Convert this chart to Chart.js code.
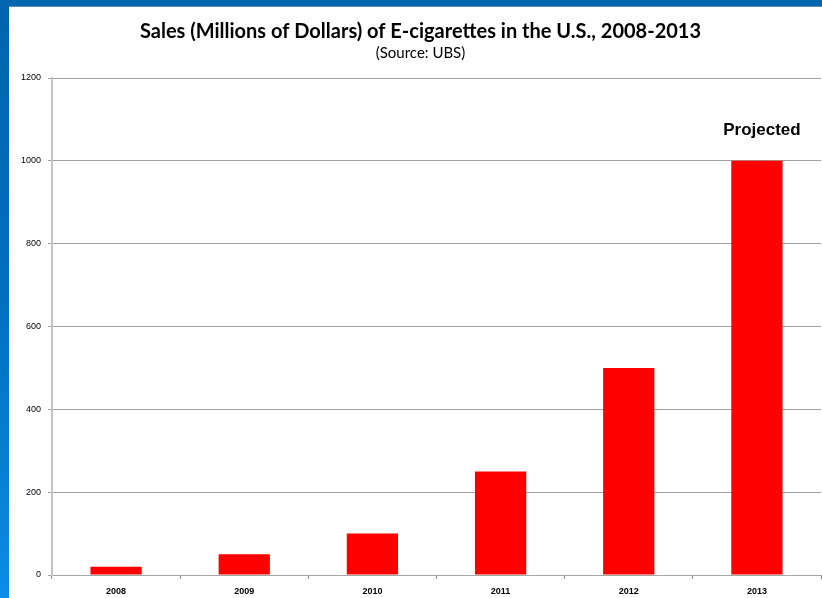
<!DOCTYPE html>
<html>
<head>
<meta charset="utf-8">
<script src="https://cdn.jsdelivr.net/npm/chart.js@4/dist/chart.umd.min.js"></script>
<style>
  html, body { margin: 0; padding: 0; background: #ffffff; }
  #wrap { position: relative; width: 822px; height: 598px; overflow: hidden; }
  #chart { position: absolute; left: 0; top: 0; }
</style>
</head>
<body>
<div id="wrap"><canvas id="chart" width="822" height="598"></canvas></div>
<script>
// Sales of e-cigarettes in the U.S., millions of dollars
const years = ['2008', '2009', '2010', '2011', '2012', '2013'];
const sales = [20, 50, 100, 250, 500, 1000];
const projectedYear = '2013';
const projectedLabel = 'Projected';
const titleText = 'Sales (Millions of Dollars) of E-cigarettes in the U.S., 2008-2013';
const subtitleText = '(Source: UBS)';

// Blue slide frame along the top and left edges
const framePlugin = {
  id: 'frame',
  beforeDraw(chart) {
    const ctx = chart.ctx;
    ctx.save();
    ctx.fillStyle = '#ffffff';
    ctx.fillRect(0, 0, chart.width, chart.height);
    const g = ctx.createLinearGradient(0, 0, 0, chart.height);
    g.addColorStop(0, '#0064ae');
    g.addColorStop(0.5, '#0070be');
    g.addColorStop(1, '#0b8ce4');
    ctx.fillStyle = g;
    ctx.fillRect(0, 0, 9, chart.height);
    ctx.fillStyle = '#0066b0';
    ctx.fillRect(0, 0, chart.width, 6);
    ctx.fillStyle = '#5a8fbf';
    ctx.fillRect(9, 6, chart.width - 9, 1);
    ctx.restore();
  }
};

// Note above the projected bar
const projectedPlugin = {
  id: 'projected',
  afterDatasetsDraw(chart) {
    const i = years.indexOf(projectedYear);
    const x = chart.scales.x.getPixelForValue(i);
    const y = chart.scales.y.getPixelForValue(sales[i]);
    const ctx = chart.ctx;
    ctx.save();
    ctx.font = 'bold 17px "Liberation Sans", Arial, sans-serif';
    ctx.fillStyle = '#000000';
    ctx.textAlign = 'center';
    ctx.textBaseline = 'middle';
    ctx.fillText(projectedLabel, x + 5, y - 31);
    ctx.restore();
  }
};

new Chart(document.getElementById('chart'), {
  type: 'bar',
  data: {
    labels: years,
    datasets: [{
      data: sales,
      backgroundColor: '#ff0000',
      borderWidth: 0,
      categoryPercentage: 1.0,
      barPercentage: 0.4
    }]
  },
  options: {
    responsive: false,
    animation: false,
    layout: { padding: { top: 6, right: 1, left: 20, bottom: 0 } },
    plugins: {
      legend: { display: false },
      tooltip: { enabled: false },
      title: {
        display: true,
        text: titleText,
        color: '#000000',
        font: { family: 'Lato, "Open Sans", sans-serif', size: 20, weight: 'bold' },
        padding: { top: 14, bottom: 0 }
      },
      subtitle: {
        display: true,
        text: subtitleText,
        color: '#000000',
        font: { family: 'Lato, "Open Sans", sans-serif', size: 15 },
        padding: { top: 0, bottom: 16 }
      }
    },
    scales: {
      x: {
        afterFit(scale) { scale.height = 23; },
        grid: {
          display: true,
          offset: true,
          drawOnChartArea: false,
          drawTicks: true,
          tickLength: 4,
          color: '#8c8c8c'
        },
        border: { display: true, color: '#a6a6a6', width: 1 },
        ticks: {
          color: '#000000',
          padding: 7,
          font: { family: '"Liberation Sans", Arial, sans-serif', size: 9, weight: 'bold' }
        }
      },
      y: {
        min: 0,
        max: 1200,
        afterFit(scale) { scale.width = 32; },
        ticks: {
          stepSize: 200,
          color: '#000000',
          padding: 7,
          callback: (v) => String(v),
          font: { family: '"Liberation Sans", Arial, sans-serif', size: 9 }
        },
        grid: {
          color: '#a0a0a0',
          lineWidth: 1,
          tickLength: 4
        },
        border: { display: true, color: '#c4c4c4', width: 2 }
      }
    }
  },
  plugins: [framePlugin, projectedPlugin]
});
</script>
</body>
</html>
